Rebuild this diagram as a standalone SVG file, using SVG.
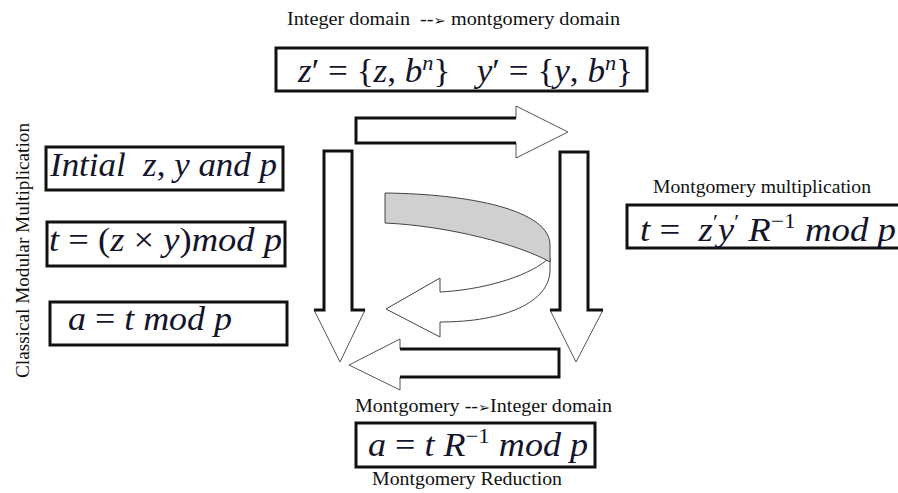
<svg xmlns="http://www.w3.org/2000/svg" width="898" height="493" viewBox="0 0 898 493">
<style>
.lbl{font-family:"Liberation Serif","Times New Roman",serif;font-size:18px;fill:#111}
.math{font-family:"Liberation Serif","Times New Roman",serif;font-style:italic;font-size:33px;fill:#14142a}
.up{font-style:normal}
.box{fill:#fff;stroke:#111;stroke-width:3}
.head{fill:#fff;stroke:#555;stroke-width:1}
.shaft{fill:none;stroke:#111;stroke-width:3}
</style>
<rect width="898" height="493" fill="#fff"/>
<text class="lbl" x="287" y="25" textLength="333" lengthAdjust="spacingAndGlyphs">Integer domain &#160;--<tspan font-family="DejaVu Sans" font-size="13">➢</tspan> montgomery domain</text>
<text class="lbl" transform="translate(29,378) rotate(-90)" x="0" y="0" textLength="255" lengthAdjust="spacingAndGlyphs">Classical Modular Multiplication</text>
<text class="lbl" x="653" y="193" textLength="218" lengthAdjust="spacingAndGlyphs">Montgomery multiplication</text>
<text class="lbl" x="355" y="412" textLength="257" lengthAdjust="spacingAndGlyphs">Montgomery --<tspan font-family="DejaVu Sans" font-size="13">➢</tspan>Integer domain</text>
<text class="lbl" x="372" y="485" textLength="190" lengthAdjust="spacingAndGlyphs">Montgomery Reduction</text>

<g id="node-mont-convert">
<rect class="box" x="276" y="48" width="371" height="43"/>
<text class="math" x="298" y="82" textLength="335" lengthAdjust="spacingAndGlyphs">z<tspan class="up">′ = {</tspan>z<tspan class="up">, </tspan>b<tspan font-size="21" dy="-12">n</tspan><tspan class="up" dy="12">}&#160;&#160;&#160;</tspan>y<tspan class="up">′ = {</tspan>y<tspan class="up">, </tspan>b<tspan font-size="21" dy="-12">n</tspan><tspan class="up" dy="12">}</tspan></text>
</g>
<g id="node-initial">
<rect class="box" x="46" y="147" width="237" height="43"/>
<text class="math" x="50" y="176" textLength="227" lengthAdjust="spacingAndGlyphs">Intial&#160;&#160;z<tspan class="up">, </tspan>y and p</text>
</g>
<g id="node-t-classic">
<rect class="box" x="47" y="222" width="238" height="44"/>
<text class="math" x="49" y="251" textLength="233" lengthAdjust="spacingAndGlyphs">t <tspan class="up">= (</tspan>z <tspan class="up">× </tspan>y<tspan class="up">)</tspan>mod p</text>
</g>
<g id="node-a-classic">
<rect class="box" x="50" y="302" width="237" height="43"/>
<text class="math" x="68" y="330" textLength="164" lengthAdjust="spacingAndGlyphs">a <tspan class="up">= </tspan>t mod p</text>
</g>
<g id="node-mont-mult">
<rect class="box" x="627" y="205" width="275" height="43"/>
<text class="math" x="640" y="241" textLength="256" lengthAdjust="spacingAndGlyphs">t <tspan class="up">=&#160;&#160;</tspan>z<tspan class="up" font-size="20" dy="-12">′</tspan><tspan dy="12">y</tspan><tspan class="up" font-size="20" dy="-12">′</tspan><tspan dy="12"> R</tspan><tspan class="up" font-size="21" dy="-13">−1</tspan><tspan dy="13"> mod p</tspan></text>
</g>
<g id="node-mont-red">
<rect class="box" x="356" y="423" width="239" height="44"/>
<text class="math" x="368" y="456" textLength="220" lengthAdjust="spacingAndGlyphs">a <tspan class="up">= </tspan>t R<tspan class="up" font-size="21" dy="-13">−1</tspan><tspan dy="13"> mod p</tspan></text>
</g>

<g id="connectors">
<polygon class="head" points="356,118 516,118 516,106 568,132 516,158 516,143 356,143"/>
<polyline class="shaft" points="516,118 356,118 356,143 516,143"/>
<polygon class="head" points="324,151 352,151 352,310 365,310 340,362 314,310 324,310"/>
<polyline class="shaft" points="314,310 324,310 324,151 352,151 352,310 365,310"/>
<polygon class="head" points="560,152 588,152 588,310 603,310 576,362 550,310 560,310"/>
<polyline class="shaft" points="550,310 560,310 560,152 588,152 588,310 603,310"/>
<polygon class="head" points="559,349 400,349 400,339 349,365 400,390 400,377 559,377"/>
<polyline class="shaft" points="400,349 559,349 559,377 400,377"/>
<path d="M547,260 C525,278 480,290 440,292 L440,278 L386,309 L440,337 L440,322 C505,322 550,302 550,270 L550,258 Z" fill="#fff" stroke="#444" stroke-width="1"/>
<path d="M385,193 C470,194 550,210 550,245 L550,262 C520,245 450,226 385,223 Z" fill="#d0d0d0" stroke="#444" stroke-width="1"/>
</g>
</svg>
